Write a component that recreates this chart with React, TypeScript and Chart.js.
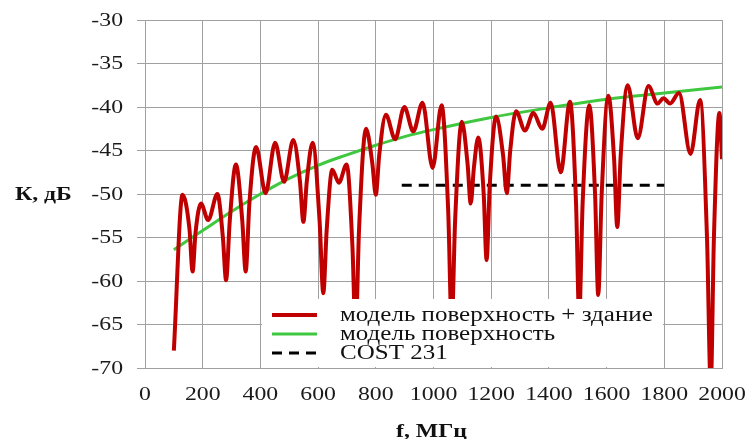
import React, { useEffect, useRef } from "react";
import { Chart, registerables } from "chart.js";

Chart.register(...registerables);

// ---- data ----
const redFreq = [
  100, 130, 154, 165, 175, 194, 219, 251, 270, 281, 294, 315, 337, 349, 362, 385, 418, 451, 482, 514,
  537, 549, 561, 581, 605, 618, 630, 649, 672, 699, 719, 730, 742, 766, 788, 800, 812, 835, 867, 899,
  930, 962, 997, 1028, 1051, 1063, 1075, 1098, 1118, 1129, 1140, 1155, 1174, 1184, 1195, 1217, 1241,
  1254, 1266, 1286, 1317, 1346, 1377, 1406, 1441, 1473, 1494, 1505, 1517, 1540, 1560, 1571, 1583, 1606,
  1626, 1637, 1649, 1673, 1708, 1745, 1777, 1797, 1820, 1851, 1891, 1924, 1948, 1961, 1972, 1991, 2000,
];
const redDb = [
  -68, -50.1, -54, -58.9, -54.5, -51.1, -53.0, -50.0, -55, -59.9, -53, -46.6, -53, -58.9, -51, -44.6,
  -49.9, -44.1, -48.6, -43.8, -48.5, -53.2, -48.5, -44.1, -53, -61.4, -54, -47.2, -48.7, -46.6, -56, -66,
  -54, -42.5, -46.5, -50.1, -45.5, -40.9, -43.7, -40.0, -42.8, -39.5, -47.0, -39.8, -52, -65, -53, -41.7,
  -46.5, -51.1, -47, -43.5, -50, -57.6, -49, -41.1, -45.5, -49.9, -45, -40.5, -42.7, -40.7, -42.5, -39.5,
  -47.5, -39.4, -51, -64, -51, -39.8, -50, -61.6, -50, -38.7, -46, -53.8, -45.5, -37.5, -43.6, -37.6,
  -39.6, -39.0, -39.6, -38.4, -45.4, -39.2, -55, -72, -55, -40.7, -46,
];
const greenFreq = [100, 200, 300, 400, 500, 600, 700, 800, 900, 1000, 1200, 1400, 1600, 1800, 2000];
const greenDb = [-56.4, -54.2, -52.0, -50.0, -48.2, -46.7, -45.5, -44.4, -43.4, -42.6, -41.2, -40.1, -39.1, -38.4, -37.7];
const costFreq = [890, 1800];
const costDb = [-49, -49];

const seriesLabels = ["модель поверхность + здание", "модель поверхность", "COST 231"];
const xTitle = "f, МГц";
const yTitle = "К, дБ";
const xMin = 0, xMax = 2000, xStep = 200;
const yMin = -70, yMax = -30, yStep = 5;

const FONT = "'Liberation Serif', 'Times New Roman', serif";
const STRETCH = 1.25; // reference text is horizontally widened

function stretchedText(
  ctx: CanvasRenderingContext2D,
  text: string,
  x: number,
  y: number,
  align: CanvasTextAlign,
  font: string
) {
  ctx.save();
  ctx.font = font;
  ctx.textAlign = align;
  ctx.textBaseline = "middle";
  ctx.translate(x, y);
  ctx.scale(STRETCH, 1);
  ctx.fillText(text, 0, 0);
  ctx.restore();
}

const pairs = (xs: number[], ys: number[]) => xs.map((x, i) => ({ x, y: ys[i] }));

const legendPlugin = {
  id: "boxLegend",
  afterDatasetsDraw(chart: any) {
    const ctx = chart.ctx as CanvasRenderingContext2D;
    const a = chart.chartArea;
    const bx = a.left + 117;
    const by = a.bottom - 69;
    const bw = 401;
    const bh = 68;
    ctx.save();
    ctx.fillStyle = "#ffffff";
    ctx.fillRect(bx, by, bw, bh);
    chart.data.datasets.forEach((ds: any, i: number) => {
      const y = by + 16 + i * 19;
      ctx.beginPath();
      ctx.strokeStyle = ds.borderColor;
      ctx.lineWidth = ds.borderWidth;
      ctx.setLineDash(ds.borderDash || []);
      ctx.moveTo(bx + 10, y);
      ctx.lineTo(bx + 55, y);
      ctx.stroke();
      ctx.setLineDash([]);
      ctx.fillStyle = "#111";
      stretchedText(ctx, ds.label, bx + 78, y + 1, "left", `20px ${FONT}`);
    });
    ctx.restore();
  },
};

const textPlugin = {
  id: "axisText",
  afterDraw(chart: any) {
    const ctx = chart.ctx as CanvasRenderingContext2D;
    const a = chart.chartArea;
    const xs = chart.scales.x;
    const ys = chart.scales.y;
    ctx.save();
    ctx.fillStyle = "#1a1a1a";
    const tickFont = `19px ${FONT}`;
    ys.ticks.forEach((t: any) => {
      stretchedText(ctx, String(t.value), a.left - 22, ys.getPixelForValue(t.value) + 1, "right", tickFont);
    });
    xs.ticks.forEach((t: any) => {
      stretchedText(ctx, String(t.value), xs.getPixelForValue(t.value), a.bottom + 27, "center", tickFont);
    });
    ctx.fillStyle = "#111";
    const titleFont = `bold 19px ${FONT}`;
    stretchedText(ctx, yTitle, 15, (a.top + a.bottom) / 2 + 1, "left", titleFont);
    stretchedText(ctx, xTitle, (a.left + a.right) / 2 - 2, a.bottom + 64, "center", titleFont);
    ctx.restore();
  },
};

export default function App() {
  const ref = useRef<HTMLCanvasElement | null>(null);

  useEffect(() => {
    if (!ref.current) return;
    const chart = new Chart(ref.current, {
      type: "line",
      data: {
        datasets: [
          {
            label: seriesLabels[0],
            data: pairs(redFreq, redDb),
            borderColor: "#c00000",
            borderWidth: 4,
            pointRadius: 0,
            cubicInterpolationMode: "monotone",
            fill: false,
          },
          {
            label: seriesLabels[1],
            data: pairs(greenFreq, greenDb),
            borderColor: "#3fc83f",
            borderWidth: 3,
            pointRadius: 0,
            tension: 0.4,
            fill: false,
          },
          {
            label: seriesLabels[2],
            data: pairs(costFreq, costDb),
            borderColor: "#000000",
            borderWidth: 3,
            borderDash: [10, 7],
            pointRadius: 0,
            fill: false,
          },
        ],
      },
      options: {
        animation: false,
        responsive: false,
        devicePixelRatio: 1,
        layout: { padding: { top: 20, right: 27, left: 0, bottom: 0 } },
        plugins: { legend: { display: false }, tooltip: { enabled: false }, title: { display: false } },
        scales: {
          x: {
            type: "linear",
            min: xMin,
            max: xMax,
            afterFit: (s: any) => { s.height = 71; },
            ticks: { stepSize: xStep, display: false },
            grid: { color: "#a0a0a0", lineWidth: 1, drawTicks: false },
            border: { color: "#a0a0a0" },
          },
          y: {
            type: "linear",
            min: yMin,
            max: yMax,
            afterFit: (s: any) => { s.width = 145; },
            ticks: { stepSize: yStep, display: false },
            grid: { color: "#a0a0a0", lineWidth: 1, drawTicks: true, tickLength: 8 },
            border: { color: "#a0a0a0" },
          },
        },
      } as any,
      plugins: [legendPlugin, textPlugin],
    });
    return () => chart.destroy();
  }, []);

  return (
    <div style={{ position: "fixed", left: 0, top: 0, width: 749, height: 439, background: "#fff" }}>
      <canvas ref={ref} width={749} height={439} />
    </div>
  );
}
